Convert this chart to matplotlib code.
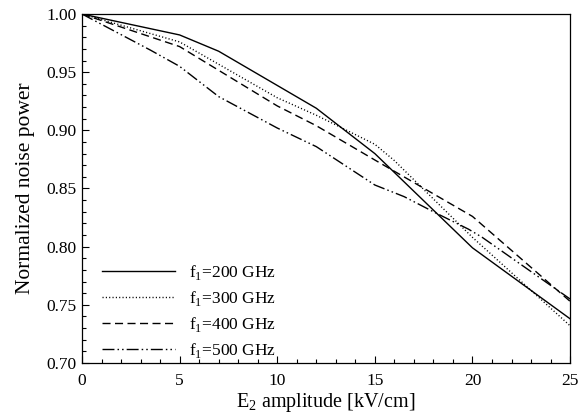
import numpy as np
import matplotlib
matplotlib.use("Agg")
import matplotlib.pyplot as plt
from matplotlib.ticker import MultipleLocator

plt.rcParams['font.family'] = ['Liberation Serif', 'DejaVu Serif']
plt.rcParams['mathtext.fontset'] = 'custom'
plt.rcParams['mathtext.rm'] = 'Liberation Serif'

# f1 = 200 GHz
x200 = [0, 5, 7, 12, 15, 20, 25]
y200 = [1.0, 0.982, 0.968, 0.919, 0.880, 0.799, 0.738]

# f1 = 300 GHz
x300 = [0, 5, 10, 12, 15, 16, 20, 25]
y300 = [1.0, 0.976, 0.928, 0.913, 0.888, 0.874, 0.808, 0.732]

# f1 = 400 GHz
x400 = [0, 5, 10, 12, 15, 20, 25]
y400 = [1.0, 0.972, 0.921, 0.904, 0.8745, 0.826, 0.753]

# f1 = 500 GHz
x500 = [0, 3.5, 5, 7, 10, 12, 15, 16.5, 18, 19.8, 20.5, 25]
y500 = [1.0, 0.969, 0.955, 0.929, 0.902, 0.886, 0.853, 0.843, 0.830, 0.815, 0.808, 0.755]

labels = ['f$_1$=200 GHz', 'f$_1$=300 GHz', 'f$_1$=400 GHz', 'f$_1$=500 GHz']

fig = plt.figure(figsize=(5.79, 4.18), dpi=100)
ax = fig.add_axes([0.1416, 0.1316, 0.8430, 0.8349])

ax.plot(x200, y200, color='black', lw=1.0, linestyle='-', label=labels[0])
ax.plot(x300, y300, color='black', lw=1.0, linestyle=(0, (0.8, 1.6)), label=labels[1])
ax.plot(x400, y400, color='black', lw=1.0, linestyle=(0, (5.8, 3.2)), label=labels[2])
ax.plot(x500, y500, color='black', lw=1.0,
        linestyle=(0, (8.6, 2.2, 1.1, 2.2, 1.1, 2.2)), label=labels[3])

ax.set_xlim(0, 25)
ax.set_ylim(0.70, 1.00)
ax.xaxis.set_major_locator(MultipleLocator(5))
ax.xaxis.set_minor_locator(MultipleLocator(1))
ax.yaxis.set_major_locator(MultipleLocator(0.05))
ax.yaxis.set_minor_locator(MultipleLocator(0.01))
ax.yaxis.set_major_formatter(matplotlib.ticker.FormatStrFormatter('%.2f'))
ax.tick_params(which='both', direction='in', top=False, right=False, labelsize=12.5)
ax.tick_params(which='major', length=5, width=0.8)
ax.tick_params(which='minor', length=3, width=0.8)
ax.tick_params(axis='x', pad=7)
ax.tick_params(axis='y', pad=4)
for s in ax.spines.values():
    s.set_linewidth(0.9)

ax.set_xlabel('E$_2$ amplitude [kV/cm]', fontsize=14.5, labelpad=2)
ax.set_ylabel('Normalized noise power', fontsize=15.5, labelpad=8)

ax.legend(loc='lower left', frameon=False, fontsize=12.5, handlelength=4.2,
          handletextpad=0.8, labelspacing=0.4, bbox_to_anchor=(0.01, -0.037))

fig.savefig('out.png', dpi=100)
